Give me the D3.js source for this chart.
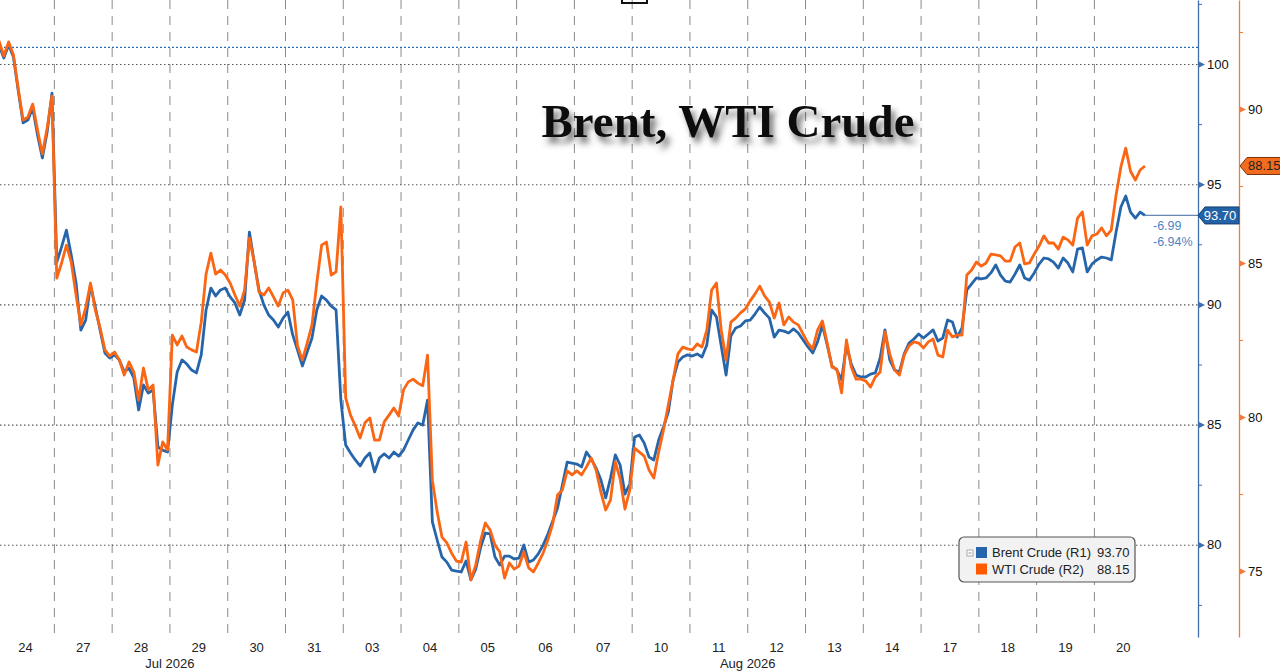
<!DOCTYPE html>
<html><head><meta charset="utf-8">
<script src="https://cdn.jsdelivr.net/npm/d3@7"></script>
<style>
body{margin:0;background:#fff;}
svg{display:block;font-family:"Liberation Sans",Arial,sans-serif;}
</style>
</head><body>
<svg id="chart" width="1280" height="671"></svg>
<script>
// ---------------- DATA ----------------
const dayLabels = ["24","27","28","29","30","31","03","04","05","06","07","10","11","12","13","14","17","18","19","20"];
const monthNames = ["Jul 2026","Aug 2026"];
const monthStartDay = [0, 6];
const samplesPerDay = 12; // intraday samples, evenly spaced within each session

const brentDays = [
 [100.79,100.25,100.79,100.29,98.88,97.55,97.67,98.17,97.05,96.09,97.17,98.79],
 [91.76,92.39,93.09,92.05,90.89,88.93,89.35,90.81,89.89,88.93,87.98,87.77],
 [87.90,87.69,87.19,87.35,86.94,85.61,86.65,86.31,86.44,84.07,83.94,83.86],
 [85.82,87.19,87.69,87.52,87.27,87.15,87.90,89.77,90.68,90.35,90.60,90.68],
 [90.31,90.06,89.56,90.18,93.01,91.76,90.60,89.98,89.56,89.35,89.06,89.43],
 [89.68,88.73,88.10,87.44,88.02,88.60,89.77,90.35,90.18,89.93,89.77,86.02],
 [84.15,83.82,83.53,83.28,83.61,83.82,83.03,83.61,83.78,83.61,83.86,83.69],
 [83.94,84.36,84.78,85.07,84.98,86.02,80.95,80.20,79.49,79.28,78.95,78.91],
 [78.87,79.33,78.54,78.99,79.87,80.49,80.45,79.49,79.16,79.53,79.53,79.41],
 [79.45,79.99,79.28,79.37,79.62,79.99,80.45,80.99,81.53,82.49,83.44,83.40],
 [83.36,83.24,83.86,83.57,83.19,82.70,81.95,82.78,83.74,83.32,82.11,82.53],
 [84.48,84.57,84.23,83.65,83.53,84.36,84.90,85.52,86.86,87.60,87.81,87.90],
 [87.85,87.94,87.81,88.31,89.77,89.48,88.27,87.06,88.69,89.02,89.10,89.31],
 [89.35,89.60,89.89,89.64,89.43,88.64,88.93,88.89,88.81,88.98,88.81,88.52],
 [88.23,87.98,88.44,89.14,88.31,87.44,87.27,86.86,88.31,87.52,87.06,86.98],
 [86.98,87.10,87.15,87.77,88.94,87.69,87.27,87.19,87.94,88.39,88.56,88.77],
 [88.60,88.77,88.94,88.48,88.60,89.35,89.27,88.64,89.02,90.60,90.85,91.10],
 [91.06,91.10,91.31,91.64,91.22,90.97,90.93,91.26,91.64,91.10,91.01,91.31],
 [91.68,91.93,91.89,91.76,91.51,91.93,91.72,91.35,92.30,92.35,91.35,91.68],
 [91.85,91.97,91.93,91.85,93.01,94.05,94.51,93.84,93.59,93.84,93.70]
];
const wtiDays = [
 [92.21,91.72,92.18,91.75,90.65,89.64,89.74,90.16,89.32,88.54,89.38,90.42],
 [84.51,85.00,85.58,85.03,83.96,82.99,83.54,84.35,83.47,82.89,82.18,81.98],
 [82.11,81.85,81.36,81.79,81.46,80.55,81.59,80.88,81.04,78.44,79.19,78.93],
 [82.66,82.34,82.63,82.27,82.18,82.11,83.08,84.64,85.32,84.64,84.77,84.61],
 [84.35,83.96,83.60,84.12,85.81,85.03,84.06,83.96,84.19,83.90,83.60,84.03],
 [84.12,83.80,82.31,81.85,82.40,82.99,84.35,85.58,85.68,84.61,84.71,86.82],
 [80.62,80.06,79.71,79.32,79.81,79.97,79.25,79.25,79.84,80.06,80.29,80.03],
 [80.88,81.14,81.23,81.10,81.01,82.01,77.95,76.92,76.10,75.91,75.58,75.32],
 [75.29,75.94,74.71,75.19,75.97,76.56,76.33,75.84,75.62,74.77,75.26,75.06],
 [75.16,75.62,75.10,74.97,75.26,75.58,76.01,76.53,77.47,77.63,78.25,78.12],
 [78.25,78.12,78.38,78.67,78.28,77.56,76.98,77.31,78.54,77.99,77.01,77.63],
 [78.99,78.86,78.73,78.28,78.02,78.86,79.58,80.39,81.20,82.05,82.27,82.21],
 [82.18,82.37,82.27,82.82,84.12,84.35,82.82,81.85,83.08,83.21,83.38,83.51],
 [83.77,83.99,84.25,83.93,83.73,83.21,83.70,82.99,83.25,83.08,82.99,82.69],
 [82.40,82.21,82.82,83.12,82.40,81.62,81.56,80.78,82.50,81.62,81.23,81.23],
 [81.17,80.97,81.30,81.46,82.76,82.05,81.53,81.36,82.01,82.31,82.44,82.40],
 [82.24,82.44,82.53,82.01,81.95,82.82,82.60,82.66,82.66,84.61,84.77,85.03],
 [84.90,85.00,85.29,85.26,85.23,85.06,85.06,85.52,85.65,84.97,85.00,85.29],
 [85.55,85.88,85.65,85.65,85.45,85.84,85.75,85.58,86.46,86.66,85.58,85.88],
 [85.94,86.14,85.88,86.07,87.21,88.12,88.73,87.98,87.69,88.02,88.15]
];
const seriesNames = ["Brent Crude (R1)","WTI Crude (R2)"];
const lastValues = [93.70, 88.15];
const brentPrevClose = 100.69;
const brentChange = ["-6.99","-6.94%"];
const brentTicks = [80,85,90,95,100];
const brentMinor = [77.5,82.5,87.5,92.5,97.5,102.5];
const wtiTicks = [75,80,85,90];
const wtiMinor = [77.5,82.5,87.5,92.5];
const titleText = "Brent, WTI Crude";

// ---------------- LAYOUT ----------------
const BLUE = "#2765ab", ORANGE = "#fa6614";
const axB = 1198, axW = 1239, plotBottom = 637;
const svg = d3.select("#chart");
svg.append("rect").attr("width",1280).attr("height",671).attr("fill","#fff");

const x = d3.scaleLinear().domain([0, dayLabels.length]).range([-3.4, -3.4 + 57.78*dayLabels.length]);
const yB = d3.scaleLinear().domain([76.165, 102.662]).range([plotBottom, 0]);
const yW = d3.scaleLinear().domain([72.857, 93.539]).range([plotBottom, 0]);

const defs = svg.append("defs");
defs.append("clipPath").attr("id","plot").append("rect").attr("x",0).attr("y",0).attr("width",axB).attr("height",plotBottom);
const f = defs.append("filter").attr("id","shadow").attr("x","-10%").attr("y","-30%").attr("width","130%").attr("height","180%");
f.append("feDropShadow").attr("dx",4).attr("dy",6).attr("stdDeviation",3).attr("flood-color","#444").attr("flood-opacity",0.75);

const toPts = days => days.flatMap((vals,d) => vals.map((v,i) => ({t: d + (i+0.5)/samplesPerDay, v})));
const brent = toPts(brentDays), wti = toPts(wtiDays);

// vertical dashed day separators
const g = svg.append("g");
g.selectAll(".vd").data(d3.range(1, dayLabels.length)).join("line")
  .attr("x1", d=>x(d)).attr("x2", d=>x(d)).attr("y1",0).attr("y2",plotBottom)
  .attr("stroke","#8a8a8a").attr("stroke-width",1).attr("stroke-dasharray","9,7");
// horizontal dotted grid
g.selectAll(".hd").data(brentTicks).join("line")
  .attr("x1",0).attr("x2",axB).attr("y1",d=>yB(d)+0.5).attr("y2",d=>yB(d)+0.5)
  .attr("stroke","#555").attr("stroke-width",1.1).attr("stroke-dasharray","1.5,2.5");
// previous close line
g.append("line").attr("x1",0).attr("x2",axB).attr("y1",yB(brentPrevClose)).attr("y2",yB(brentPrevClose))
  .attr("stroke","#2a6db3").attr("stroke-width",1.3).attr("stroke-dasharray","2,2");

// top cropped mark
svg.append("path").attr("d","M622,0V3H647V0").attr("fill","none").attr("stroke","#111").attr("stroke-width",2);

// title
svg.append("text").attr("x",728).attr("y",137).attr("text-anchor","middle")
  .attr("font-family","'Liberation Serif','Times New Roman',serif").attr("font-weight","bold")
  .attr("font-size",47).attr("fill","#111").attr("filter","url(#shadow)").text(titleText);

// lines
const lg = svg.append("g").attr("clip-path","url(#plot)");
lg.append("path").datum(brent).attr("fill","none").attr("stroke",BLUE).attr("stroke-width",2.8)
  .attr("stroke-linejoin","round").attr("d", d3.line().x(d=>x(d.t)).y(d=>yB(d.v)));
lg.append("path").datum(wti).attr("fill","none").attr("stroke",ORANGE).attr("stroke-width",2.8)
  .attr("stroke-linejoin","round").attr("d", d3.line().x(d=>x(d.t)).y(d=>yW(d.v)));

// last-value line for Brent
const lastT = brent[brent.length-1].t;
svg.append("line").attr("x1",x(lastT)).attr("x2",axB).attr("y1",yB(lastValues[0])).attr("y2",yB(lastValues[0]))
  .attr("stroke","#6688b0").attr("stroke-width",1.2);
svg.selectAll(".chg").data(brentChange).join("text")
  .attr("x",1153).attr("y",(d,i)=>230+i*15.5).attr("font-size",12.5).attr("fill","#4f86c4").text(d=>d);

// axes
function drawAxis(xPos, scale, ticks, minor, color){
  const a = svg.append("g").attr("transform",`translate(${xPos},0)`);
  a.call(d3.axisRight(scale).tickValues(minor).tickSize(4).tickSizeOuter(0).tickFormat(""));
  a.select(".domain").attr("stroke",color).attr("stroke-width",1.3);
  a.selectAll(".tick line").attr("stroke",color);
  const b = svg.append("g").attr("transform",`translate(${xPos},0)`);
  b.call(d3.axisRight(scale).tickValues(ticks).tickSize(0).tickPadding(9));
  b.select(".domain").remove();
  b.selectAll(".tick text").attr("font-size",13).attr("fill","#111").attr("font-family","'Liberation Sans',Arial,sans-serif");
  b.selectAll(".tick").append("path").attr("d","M0,-3.5L7,0L0,3.5Z").attr("fill",color);
}
drawAxis(axB, yB, brentTicks, brentMinor, "#3d6fae");
drawAxis(axW, yW, wtiTicks, wtiMinor, "#f47a3c");

// price tags
const yb = yB(lastValues[0]);
svg.append("path").attr("d",`M${axB},${yb}L${axB+7},${yb-8.5}H${axW}V${yb+8.5}H${axB+7}Z`)
  .attr("fill","#2462a8").attr("stroke","#173f70").attr("stroke-width",1);
svg.append("text").attr("x",axB+22).attr("y",yb+4.5).attr("text-anchor","middle").attr("font-size",13)
  .attr("fill","#fff").text(d3.format(".2f")(lastValues[0]));
const yw = yW(lastValues[1]);
svg.append("path").attr("d",`M${axW+1},${yw}L${axW+8},${yw-8.5}H1281V${yw+8.5}H${axW+8}Z`)
  .attr("fill","#f36c1e").attr("stroke","#7a3208").attr("stroke-width",1);
svg.append("text").attr("x",axW+9).attr("y",yw+4.5).attr("font-size",13)
  .attr("fill","#222").text(d3.format(".2f")(lastValues[1]));

// x labels
svg.selectAll(".xl").data(dayLabels).join("text")
  .attr("x",(d,i)=>x(i+0.5)).attr("y",652).attr("text-anchor","middle").attr("font-size",13).attr("fill","#222").text(d=>d);
svg.selectAll(".ml").data(monthNames).join("text")
  .attr("x",(d,i)=>x(((monthStartDay[i]) + (i+1<monthStartDay.length? monthStartDay[i+1] : dayLabels.length))/2))
  .attr("y",668).attr("text-anchor","middle").attr("font-size",13).attr("fill","#222").text(d=>d);

// legend
const L = svg.append("g").attr("transform","translate(959,537)");
L.append("rect").attr("width",176).attr("height",45).attr("rx",5).attr("fill","#f2f2f2").attr("stroke","#555").attr("stroke-width",1.2);
L.append("rect").attr("x",8).attr("y",13).attr("width",6).attr("height",6).attr("fill","#fff").attr("stroke","#999").attr("stroke-width",0.8);
L.append("line").attr("x1",9.5).attr("x2",12.5).attr("y1",16).attr("y2",16).attr("stroke","#777").attr("stroke-width",0.8);
const cols = [BLUE, "#ff5a00"];
seriesNames.forEach((n,i)=>{
  const yy = 10 + i*16.5;
  L.append("rect").attr("x",17).attr("y",yy).attr("width",11).attr("height",11).attr("fill",cols[i]);
  L.append("text").attr("x",33).attr("y",yy+10).attr("font-size",13).attr("fill","#222").text(n);
  L.append("text").attr("x",138).attr("y",yy+10).attr("font-size",13).attr("fill","#222").text(d3.format(".2f")(lastValues[i]));
});
</script>
</body></html>
